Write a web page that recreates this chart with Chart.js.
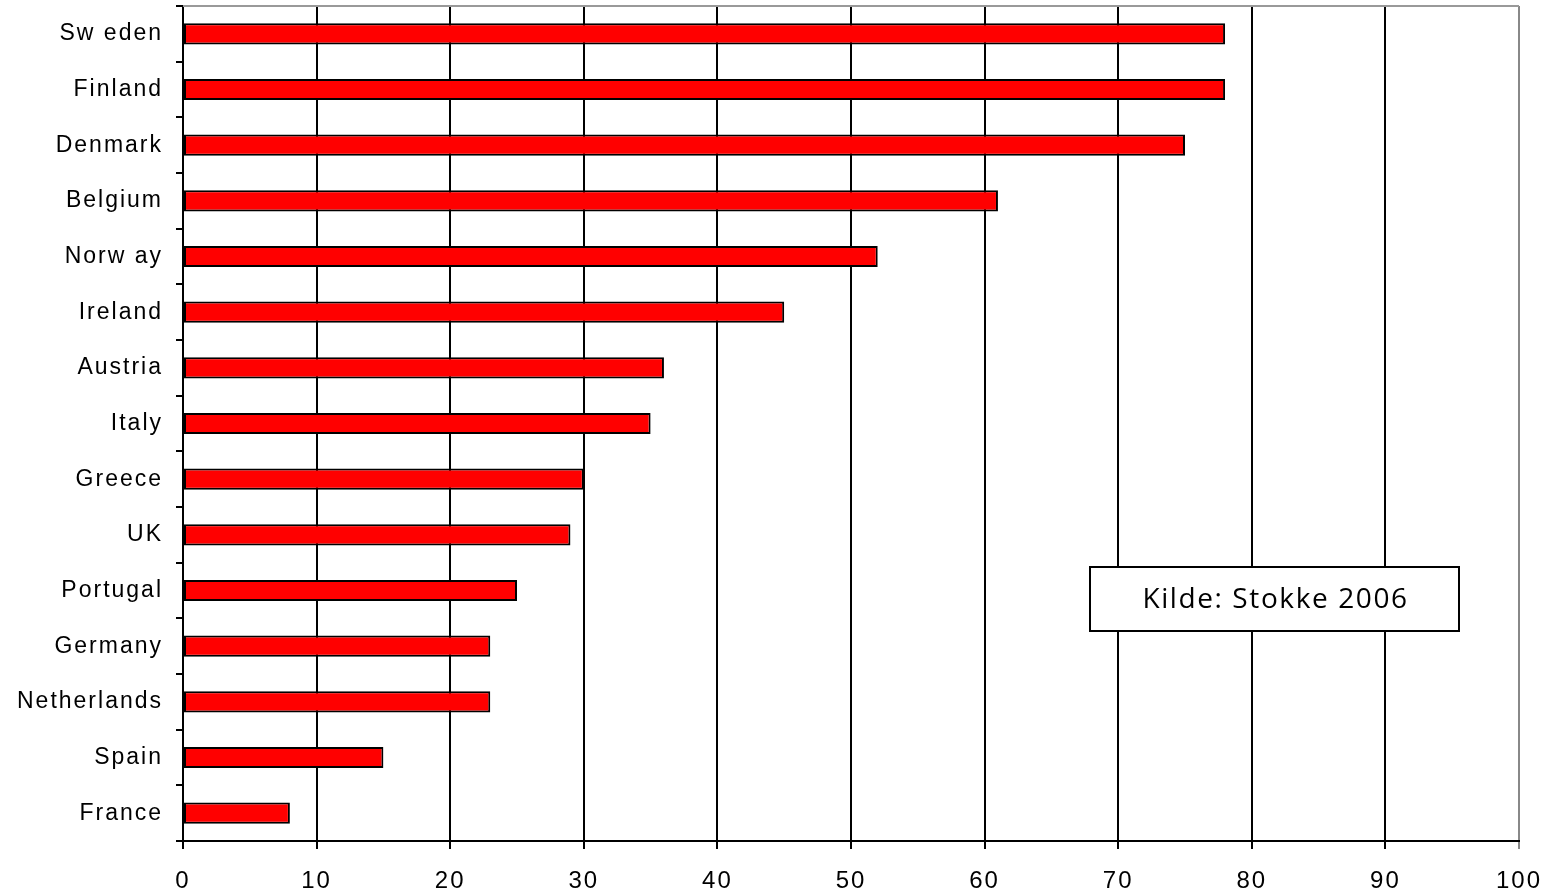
<!DOCTYPE html>
<html>
<head>
<meta charset="utf-8">
<script src="https://cdn.jsdelivr.net/npm/chart.js@4/dist/chart.umd.min.js"></script>
<style>
  html, body { margin: 0; padding: 0; background: #fff; }
  #wrap { width: 1551px; height: 891px; }
</style>
</head>
<body>
<div id="wrap"><canvas id="chart" width="1551" height="891"></canvas></div>
<script>
// Data
const countries = ["Sw eden", "Finland", "Denmark", "Belgium", "Norw ay", "Ireland", "Austria", "Italy",
  "Greece", "UK", "Portugal", "Germany", "Netherlands", "Spain", "France"];
const values = [78, 78, 75, 61, 52, 45, 36, 35, 30, 29, 25, 23, 23, 15, 8];
const xTicks = [0, 10, 20, 30, 40, 50, 60, 70, 80, 90, 100];
const sourceNote = "Kilde: Stokke 2006";

// wider letter spacing like the original export
const spacingPlugin = {
  id: "spacing",
  beforeDraw(chart) { chart.ctx.letterSpacing = "2px"; },
  afterDraw(chart) { chart.ctx.letterSpacing = "0px"; }
};

// Source box + top border
const notePlugin = {
  id: "note",
  afterDraw(chart) {
    const { ctx, chartArea } = chart;
    ctx.save();
    ctx.letterSpacing = "0px";
    // top frame line
    ctx.strokeStyle = "#999";
    ctx.lineWidth = 2;
    ctx.beginPath();
    ctx.moveTo(chartArea.left, chartArea.top);
    ctx.lineTo(chartArea.right, chartArea.top);
    ctx.stroke();

    const x = chartArea.left + 907, y = chartArea.top + 561, w = 369, h = 64;
    ctx.fillStyle = "#fff";
    ctx.fillRect(x, y, w, h);
    ctx.strokeStyle = "#000";
    ctx.lineWidth = 2;
    ctx.strokeRect(x, y, w, h);
    ctx.fillStyle = "#000";
    ctx.font = "28px 'Open Sans', sans-serif";
    ctx.letterSpacing = "1.6px";
    ctx.textAlign = "center";
    ctx.textBaseline = "middle";
    ctx.fillText(sourceNote, x + w / 2 + 1, y + h / 2 + 1);
    ctx.restore();
  }
};

const ctx = document.getElementById("chart").getContext("2d");
new Chart(ctx, {
  type: "bar",
  data: {
    labels: countries,
    datasets: [{
      data: values,
      backgroundColor: "#ff0000",
      borderColor: "#000",
      borderWidth: 2,
      borderSkipped: false,
      categoryPercentage: 1,
      barPercentage: 0.38
    }]
  },
  options: {
    indexAxis: "y",
    responsive: false,
    animation: false,
    layout: { padding: { top: 6, right: 32, bottom: 0, left: 0 } },
    plugins: { legend: { display: false }, tooltip: { enabled: false } },
    scales: {
      x: {
        min: 0, max: 100,
        afterBuildTicks: s => { s.ticks = xTicks.map(v => ({ value: v })); },
        afterFit: s => { s.height = 50; s.paddingRight = 0; s.paddingLeft = 0; },
        grid: {
          color: c => (c.tick && c.tick.value === 100) ? "#888" : "#000",
          lineWidth: 2,
          tickLength: 8
        },
        border: { color: "#000", width: 2 },
        ticks: {
          color: "#000",
          font: { family: "'Liberation Sans', Arial, sans-serif", size: 24 },
          padding: 18,
          maxRotation: 0
        }
      },
      y: {
        afterFit: s => { s.width = 183; s.paddingTop = 0; s.paddingBottom = 0; },
        grid: {
          offset: true,
          drawOnChartArea: false,
          color: "#000",
          lineWidth: 2,
          tickLength: 7
        },
        border: { color: "#000", width: 2 },
        ticks: {
          color: "#000",
          font: { family: "'Liberation Sans', Arial, sans-serif", size: 23 },
          padding: 13,
          autoSkip: false
        }
      }
    }
  },
  plugins: [spacingPlugin, notePlugin]
});
</script>
</body>
</html>
